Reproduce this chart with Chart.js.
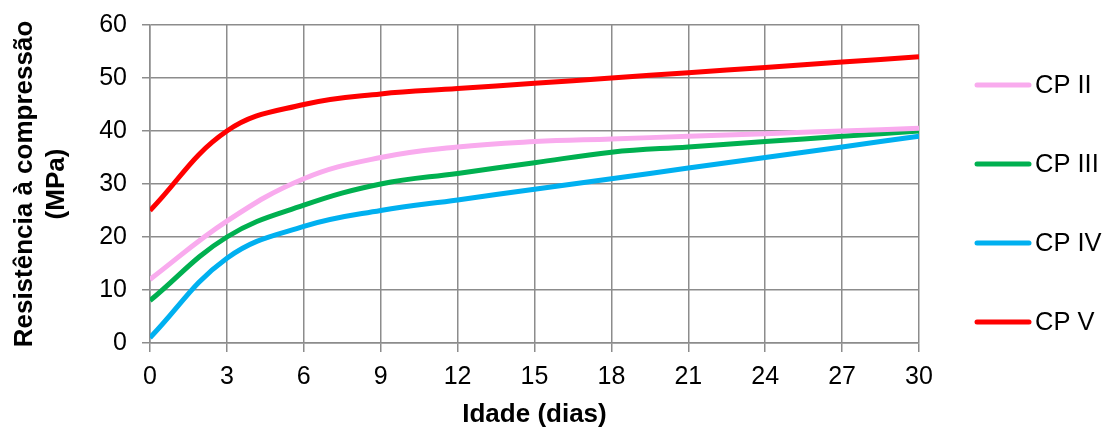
<!DOCTYPE html>
<html>
<head>
<meta charset="utf-8">
<script src="https://cdn.jsdelivr.net/npm/chart.js@4.4.0/dist/chart.umd.min.js"></script>
<style>
  html, body { margin: 0; padding: 0; background: #fff; }
  #wrap { width: 1110px; height: 430px; }
</style>
</head>
<body>
<div id="wrap"><canvas id="chart" width="1110" height="430"></canvas></div>
<script>
// idade (dias)
var dias = [0, 3, 6, 9, 12, 15, 18, 21, 24, 27, 30];
var seriesNames = ['CP II', 'CP III', 'CP IV', 'CP V'];
var cp2 = [12, 23, 31, 35, 37, 38, 38.5, 39, 39.5, 40, 40.5];
var cp3 = [8, 20, 26, 30, 32, 34, 36, 37, 38, 39, 40];
var cp4 = [1, 16, 22, 25, 27, 29, 31, 33, 35, 37, 39];
var cp5 = [25, 40, 45, 47, 48, 49, 50, 51, 52, 53, 54];
var yTicks = [0, 10, 20, 30, 40, 50, 60];

var colors = ['#F9ABEE', '#00B050', '#00B0F0', '#FF0000'];
var FONT = "'Liberation Sans', Arial, sans-serif";

function pts(vals) {
    return vals.map(function (v, i) { return { x: dias[i], y: v }; });
}

var datasets = [cp2, cp3, cp4, cp5].map(function (vals, i) {
    return {
        label: seriesNames[i],
        data: pts(vals),
        borderColor: colors[i],
        backgroundColor: colors[i],
        borderWidth: 5,
        pointRadius: 0,
        tension: 0.4,
        fill: false
    };
});

// legend drawn by hand so spacing matches the original
var sideLegend = {
    id: 'sideLegend',
    afterDraw: function (chart) {
        var ctx = chart.ctx;
        ctx.save();
        ctx.font = '25.5px ' + FONT;
        ctx.textBaseline = 'middle';
        ctx.lineCap = 'round';
        chart.data.datasets.forEach(function (ds, i) {
            var y = 85 + i * 79;
            ctx.strokeStyle = ds.borderColor;
            ctx.lineWidth = 5;
            ctx.beginPath();
            ctx.moveTo(977, y);
            ctx.lineTo(1029, y);
            ctx.stroke();
            ctx.fillStyle = '#000';
            ctx.fillText(ds.label, 1035, y + 1);
        });
        ctx.restore();
    }
};

var ctx = document.getElementById('chart').getContext('2d');
new Chart(ctx, {
    type: 'line',
    data: { datasets: datasets },
    options: {
        responsive: false,
        animation: false,
        layout: { padding: { top: 22, right: 191, bottom: 0, left: 0 } },
        plugins: {
            legend: { display: false },
            tooltip: { enabled: false }
        },
        scales: {
            x: {
                type: 'linear',
                min: 0,
                max: 30,
                afterBuildTicks: function (axis) {
                    axis.ticks = dias.map(function (d) { return { value: d }; });
                },
                grid: { color: '#8c8c8c', lineWidth: 1.5, tickLength: 9 },
                border: { color: '#8c8c8c', width: 1.5 },
                ticks: { color: '#000', font: { family: FONT, size: 25 }, padding: 10, maxRotation: 0 },
                title: {
                    display: true,
                    text: 'Idade (dias)',
                    color: '#000',
                    font: { family: FONT, size: 26, weight: 'bold', lineHeight: 1.2 },
                    padding: { top: 0, bottom: 0 }
                },
                afterFit: function (axis) { axis.height = 87; }
            },
            y: {
                min: 0,
                max: 60,
                afterBuildTicks: function (axis) {
                    axis.ticks = yTicks.map(function (v) { return { value: v }; });
                },
                grid: { color: '#8c8c8c', lineWidth: 1.5, tickLength: 8 },
                border: { color: '#8c8c8c', width: 1.5 },
                ticks: { color: '#000', font: { family: FONT, size: 25, lineHeight: 0.8 }, padding: 15 },
                title: {
                    display: true,
                    text: ['Resistência à compressão', '(MPa)'],
                    color: '#000',
                    font: { family: FONT, size: 26, weight: 'bold', lineHeight: 1.23 },
                    padding: { top: 9, bottom: 0 }
                },
                afterFit: function (axis) { axis.width = 150; }
            }
        }
    },
    plugins: [sideLegend]
});
</script>
</body>
</html>
